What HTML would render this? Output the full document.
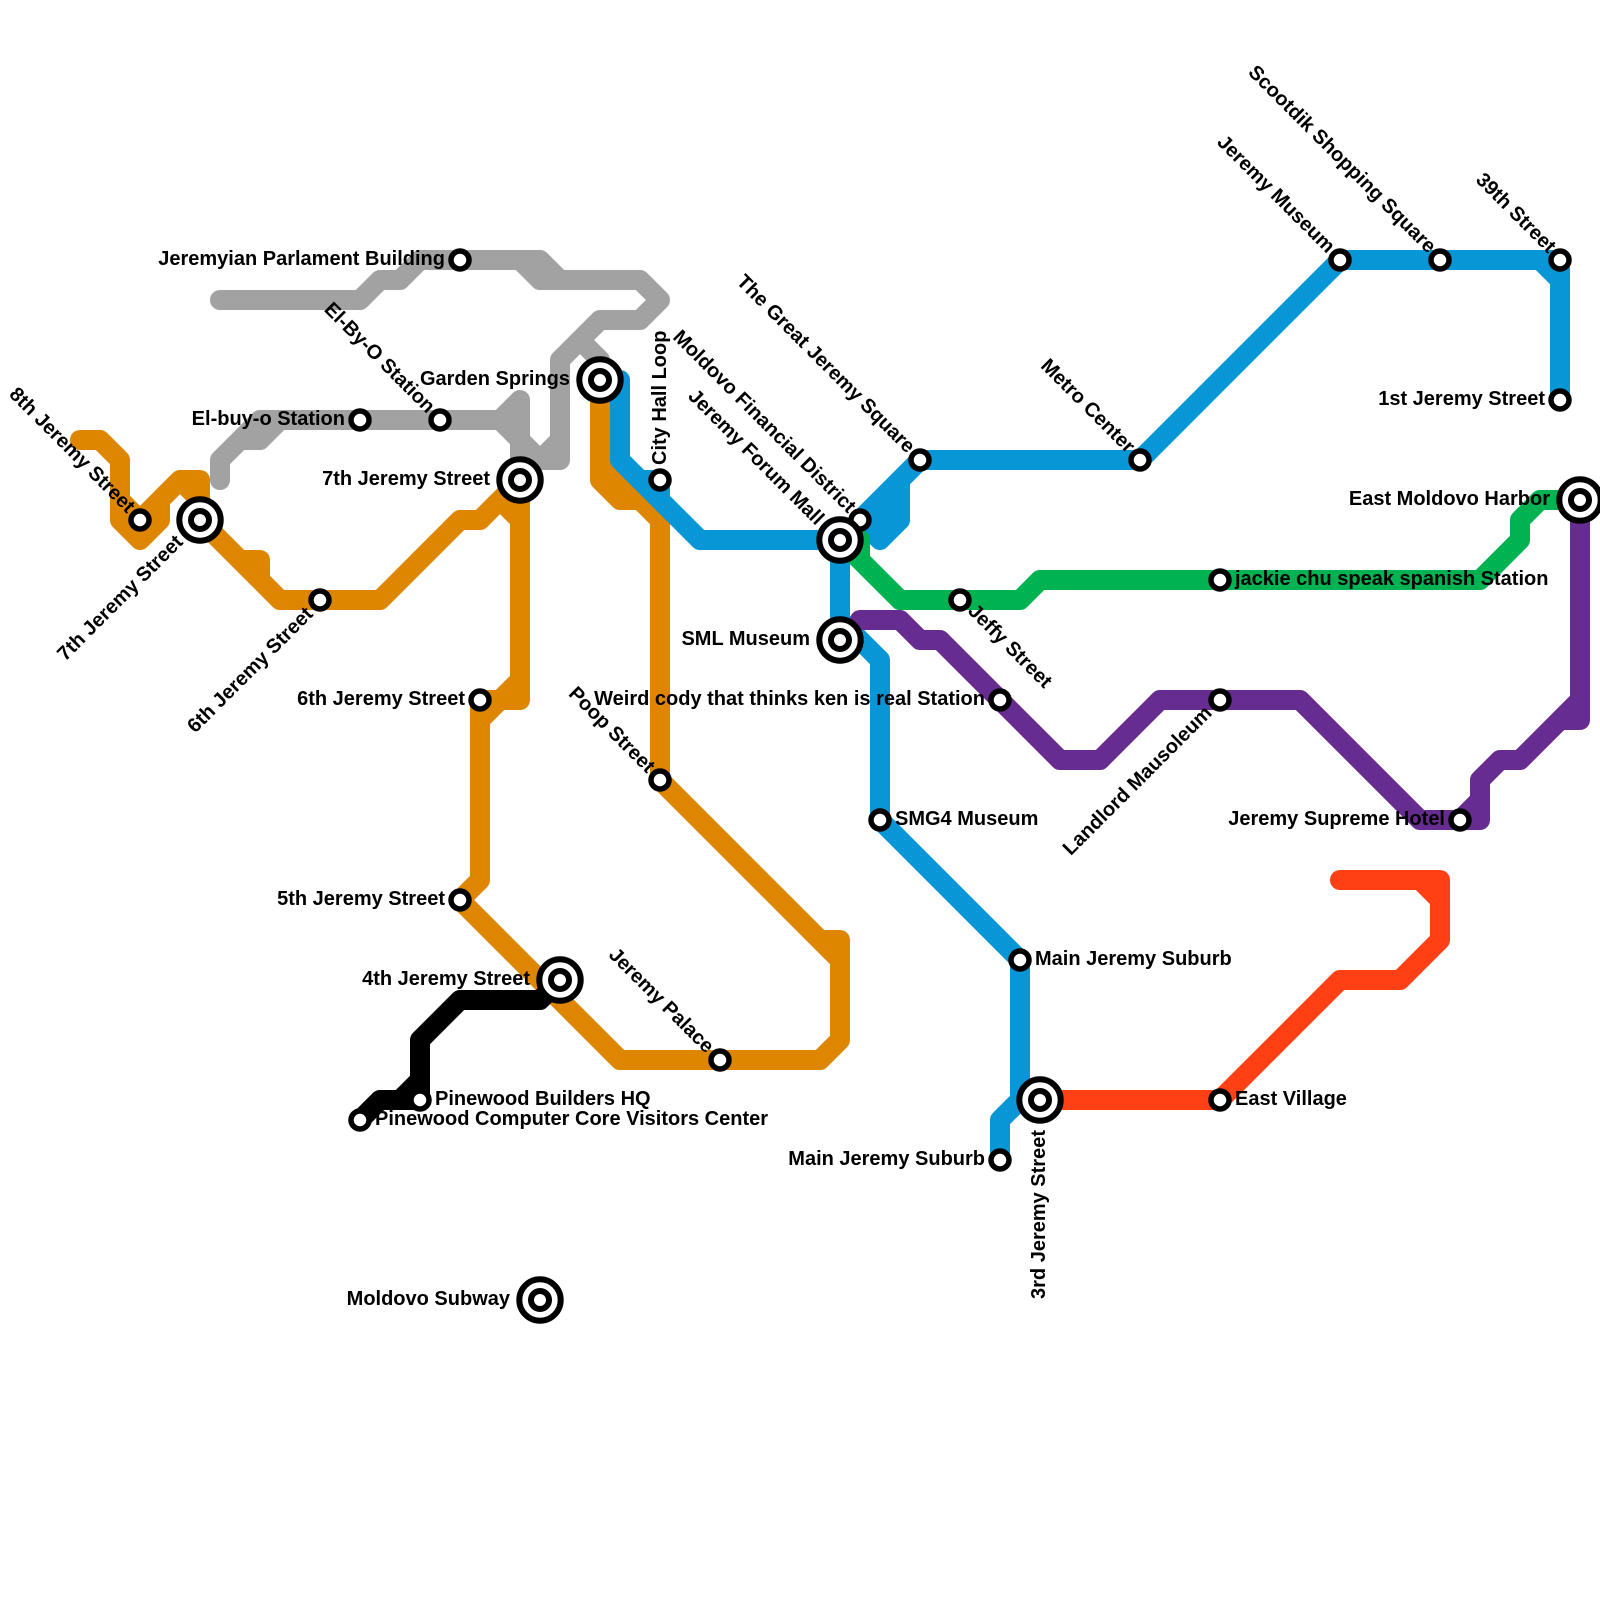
<!DOCTYPE html>
<html><head><meta charset="utf-8"><style>
html,body{margin:0;padding:0;background:#fff}
svg{display:block}
.l{fill:none;stroke-width:20;stroke-linecap:round;stroke-linejoin:round}
text{font-family:"Liberation Sans",sans-serif;font-weight:bold;font-size:20px;fill:#000}
.e{text-anchor:end}
.s{fill:#fff;stroke:#000;stroke-width:5.5}
.o{fill:#fff;stroke:#000;stroke-width:6}
.i{fill:#fff;stroke:#000;stroke-width:6}
</style></head><body>
<svg width="1600" height="1600" viewBox="0 0 1600 1600" xmlns="http://www.w3.org/2000/svg">
<rect width="1600" height="1600" fill="#fff"/>
<path class="l" stroke="#a2a2a2" d="M220 300H360L380 280H400L420 260H540L560 280H640L660 300L640 320H600L560 360V460H520M560 440L540 460L520 440V400L500 420H280L260 440H240L220 460V480M240 440L260 420H280M500 420L520 440V480M560 360L580 340L600 360V380M520 260L540 280H560"/>
<path class="l" stroke="#df8600" d="M80 440H100L120 460V520L140 540L160 520V500L180 480H200V520L280 600H380L460 520H480L520 480V700H480V880L460 900L620 1060H820L840 1040V940H820L660 780V520L640 500H620L600 480V380M120 500L140 520L180 480L200 500M240 560H260V580M500 500L520 520M480 720L520 680M600 460L660 520M820 940L840 960"/>
<path class="l" stroke="#000" d="M360 1120L380 1100H420V1040L460 1000H540L560 980M400 1100L420 1080"/>
<path class="l" stroke="#0896d7" d="M600 380H620V460L700 540H840V640M840 620L880 660V820L1020 960V1100L1000 1120V1160M640 480H660V500M840 540L860 520L920 460H1140L1340 260H1540L1560 280V400M1540 260H1560V280"/>
<path class="l" stroke="#0896d7" style="fill:#0896d7" d="M860 520L920 460L900 480V520L880 540Z"/>
<path class="l" stroke="#00b251" d="M840 540L900 600H1020L1040 580H1480L1520 540V520L1540 500H1580M860 540V560"/>
<path class="l" stroke="#662c90" d="M860 620H900L920 640H940L1060 760H1100L1160 700H1300L1420 820H1480V780L1500 760H1520L1560 720H1580V500M1460 820L1480 800M1560 720L1580 700"/>
<path class="l" stroke="#ff4015" d="M1040 1100H1220L1340 980H1400L1440 940V880H1340M1420 880L1440 900"/>

<g>
<circle class="s" cx="140" cy="520" r="9"/><circle class="s" cx="320" cy="600" r="9"/><circle class="s" cx="360" cy="420" r="9"/><circle class="s" cx="440" cy="420" r="9"/><circle class="s" cx="460" cy="260" r="9"/><circle class="s" cx="660" cy="480" r="9"/><circle class="s" cx="860" cy="520" r="9"/><circle class="s" cx="920" cy="460" r="9"/><circle class="s" cx="1140" cy="460" r="9"/><circle class="s" cx="1340" cy="260" r="9"/><circle class="s" cx="1440" cy="260" r="9"/><circle class="s" cx="1560" cy="260" r="9"/><circle class="s" cx="1560" cy="400" r="9"/><circle class="s" cx="1220" cy="580" r="9"/><circle class="s" cx="960" cy="600" r="9"/><circle class="s" cx="1000" cy="700" r="9"/><circle class="s" cx="1220" cy="700" r="9"/><circle class="s" cx="1460" cy="820" r="9"/><circle class="s" cx="880" cy="820" r="9"/><circle class="s" cx="1020" cy="960" r="9"/><circle class="s" cx="1220" cy="1100" r="9"/><circle class="s" cx="1000" cy="1160" r="9"/><circle class="s" cx="480" cy="700" r="9"/><circle class="s" cx="660" cy="780" r="9"/><circle class="s" cx="460" cy="900" r="9"/><circle class="s" cx="720" cy="1060" r="9"/><circle class="s" cx="420" cy="1100" r="9"/><circle class="s" cx="360" cy="1120" r="9"/>
<circle class="o" cx="200" cy="520" r="20.7"/><circle class="i" cx="200" cy="520" r="9"/>
<circle class="o" cx="520" cy="480" r="20.7"/><circle class="i" cx="520" cy="480" r="9"/>
<circle class="o" cx="600" cy="380" r="20.7"/><circle class="i" cx="600" cy="380" r="9"/>
<circle class="o" cx="840" cy="540" r="20.7"/><circle class="i" cx="840" cy="540" r="9"/>
<circle class="o" cx="840" cy="640" r="20.7"/><circle class="i" cx="840" cy="640" r="9"/>
<circle class="o" cx="1580" cy="500" r="20.7"/><circle class="i" cx="1580" cy="500" r="9"/>
<circle class="o" cx="1040" cy="1100" r="20.7"/><circle class="i" cx="1040" cy="1100" r="9"/>
<circle class="o" cx="560" cy="980" r="20.7"/><circle class="i" cx="560" cy="980" r="9"/>
<circle class="o" cx="540" cy="1300" r="20.7"/><circle class="i" cx="540" cy="1300" r="9"/>
</g>

<g>
<text class="e" x="445" y="265">Jeremyian Parlament Building</text>
<text class="e" x="345" y="425">El-buy-o Station</text>
<text class="e" x="570" y="385">Garden Springs</text>
<text class="e" x="490" y="485">7th Jeremy Street</text>
<text class="e" x="465" y="705">6th Jeremy Street</text>
<text class="e" x="445" y="905">5th Jeremy Street</text>
<text class="e" x="530" y="985">4th Jeremy Street</text>
<text x="435" y="1105">Pinewood Builders HQ</text>
<text x="375" y="1125">Pinewood Computer Core Visitors Center</text>
<text class="e" x="510" y="1305">Moldovo Subway</text>
<text class="e" x="810" y="645">SML Museum</text>
<text class="e" x="985" y="705">Weird cody that thinks ken is real Station</text>
<text x="895" y="825">SMG4 Museum</text>
<text x="1035" y="965">Main Jeremy Suburb</text>
<text class="e" x="985" y="1165">Main Jeremy Suburb</text>
<text x="1235" y="1105">East Village</text>
<text x="1235" y="585">jackie chu speak spanish Station</text>
<text class="e" x="1445" y="825">Jeremy Supreme Hotel</text>
<text class="e" x="1545" y="405">1st Jeremy Street</text>
<text class="e" x="1550" y="505">East Moldovo Harbor</text>
<text class="e" transform="translate(127,514) rotate(45)">8th Jeremy Street</text>
<text class="e" transform="translate(184,543) rotate(-45)">7th Jeremy Street</text>
<text class="e" transform="translate(314,615) rotate(-45)">6th Jeremy Street</text>
<text class="e" transform="translate(427,414) rotate(45)">El-By-O Station</text>
<text transform="translate(666,465) rotate(-90)">City Hall Loop</text>
<text class="e" transform="translate(848,514) rotate(45)">Moldovo Financial District</text>
<text class="e" transform="translate(816,526) rotate(45)">Jeremy Forum Mall</text>
<text class="e" transform="translate(907,454) rotate(45)">The Great Jeremy Square</text>
<text class="e" transform="translate(1127,454) rotate(45)">Metro Center</text>
<text class="e" transform="translate(1327,254) rotate(45)">Jeremy Museum</text>
<text class="e" transform="translate(1428,254) rotate(45)">Scootdik Shopping Square</text>
<text class="e" transform="translate(1548,254) rotate(45)">39th Street</text>
<text transform="translate(967,612) rotate(45)">Jeffy Street</text>
<text class="e" transform="translate(1213,714) rotate(-45)">Landlord Mausoleum</text>
<text class="e" transform="translate(647,774) rotate(45)">Poop Street</text>
<text class="e" transform="translate(706,1054) rotate(45)">Jeremy Palace</text>
<text class="e" transform="translate(1045,1130) rotate(-90)">3rd Jeremy Street</text>
</g>
</svg>
</body></html>
